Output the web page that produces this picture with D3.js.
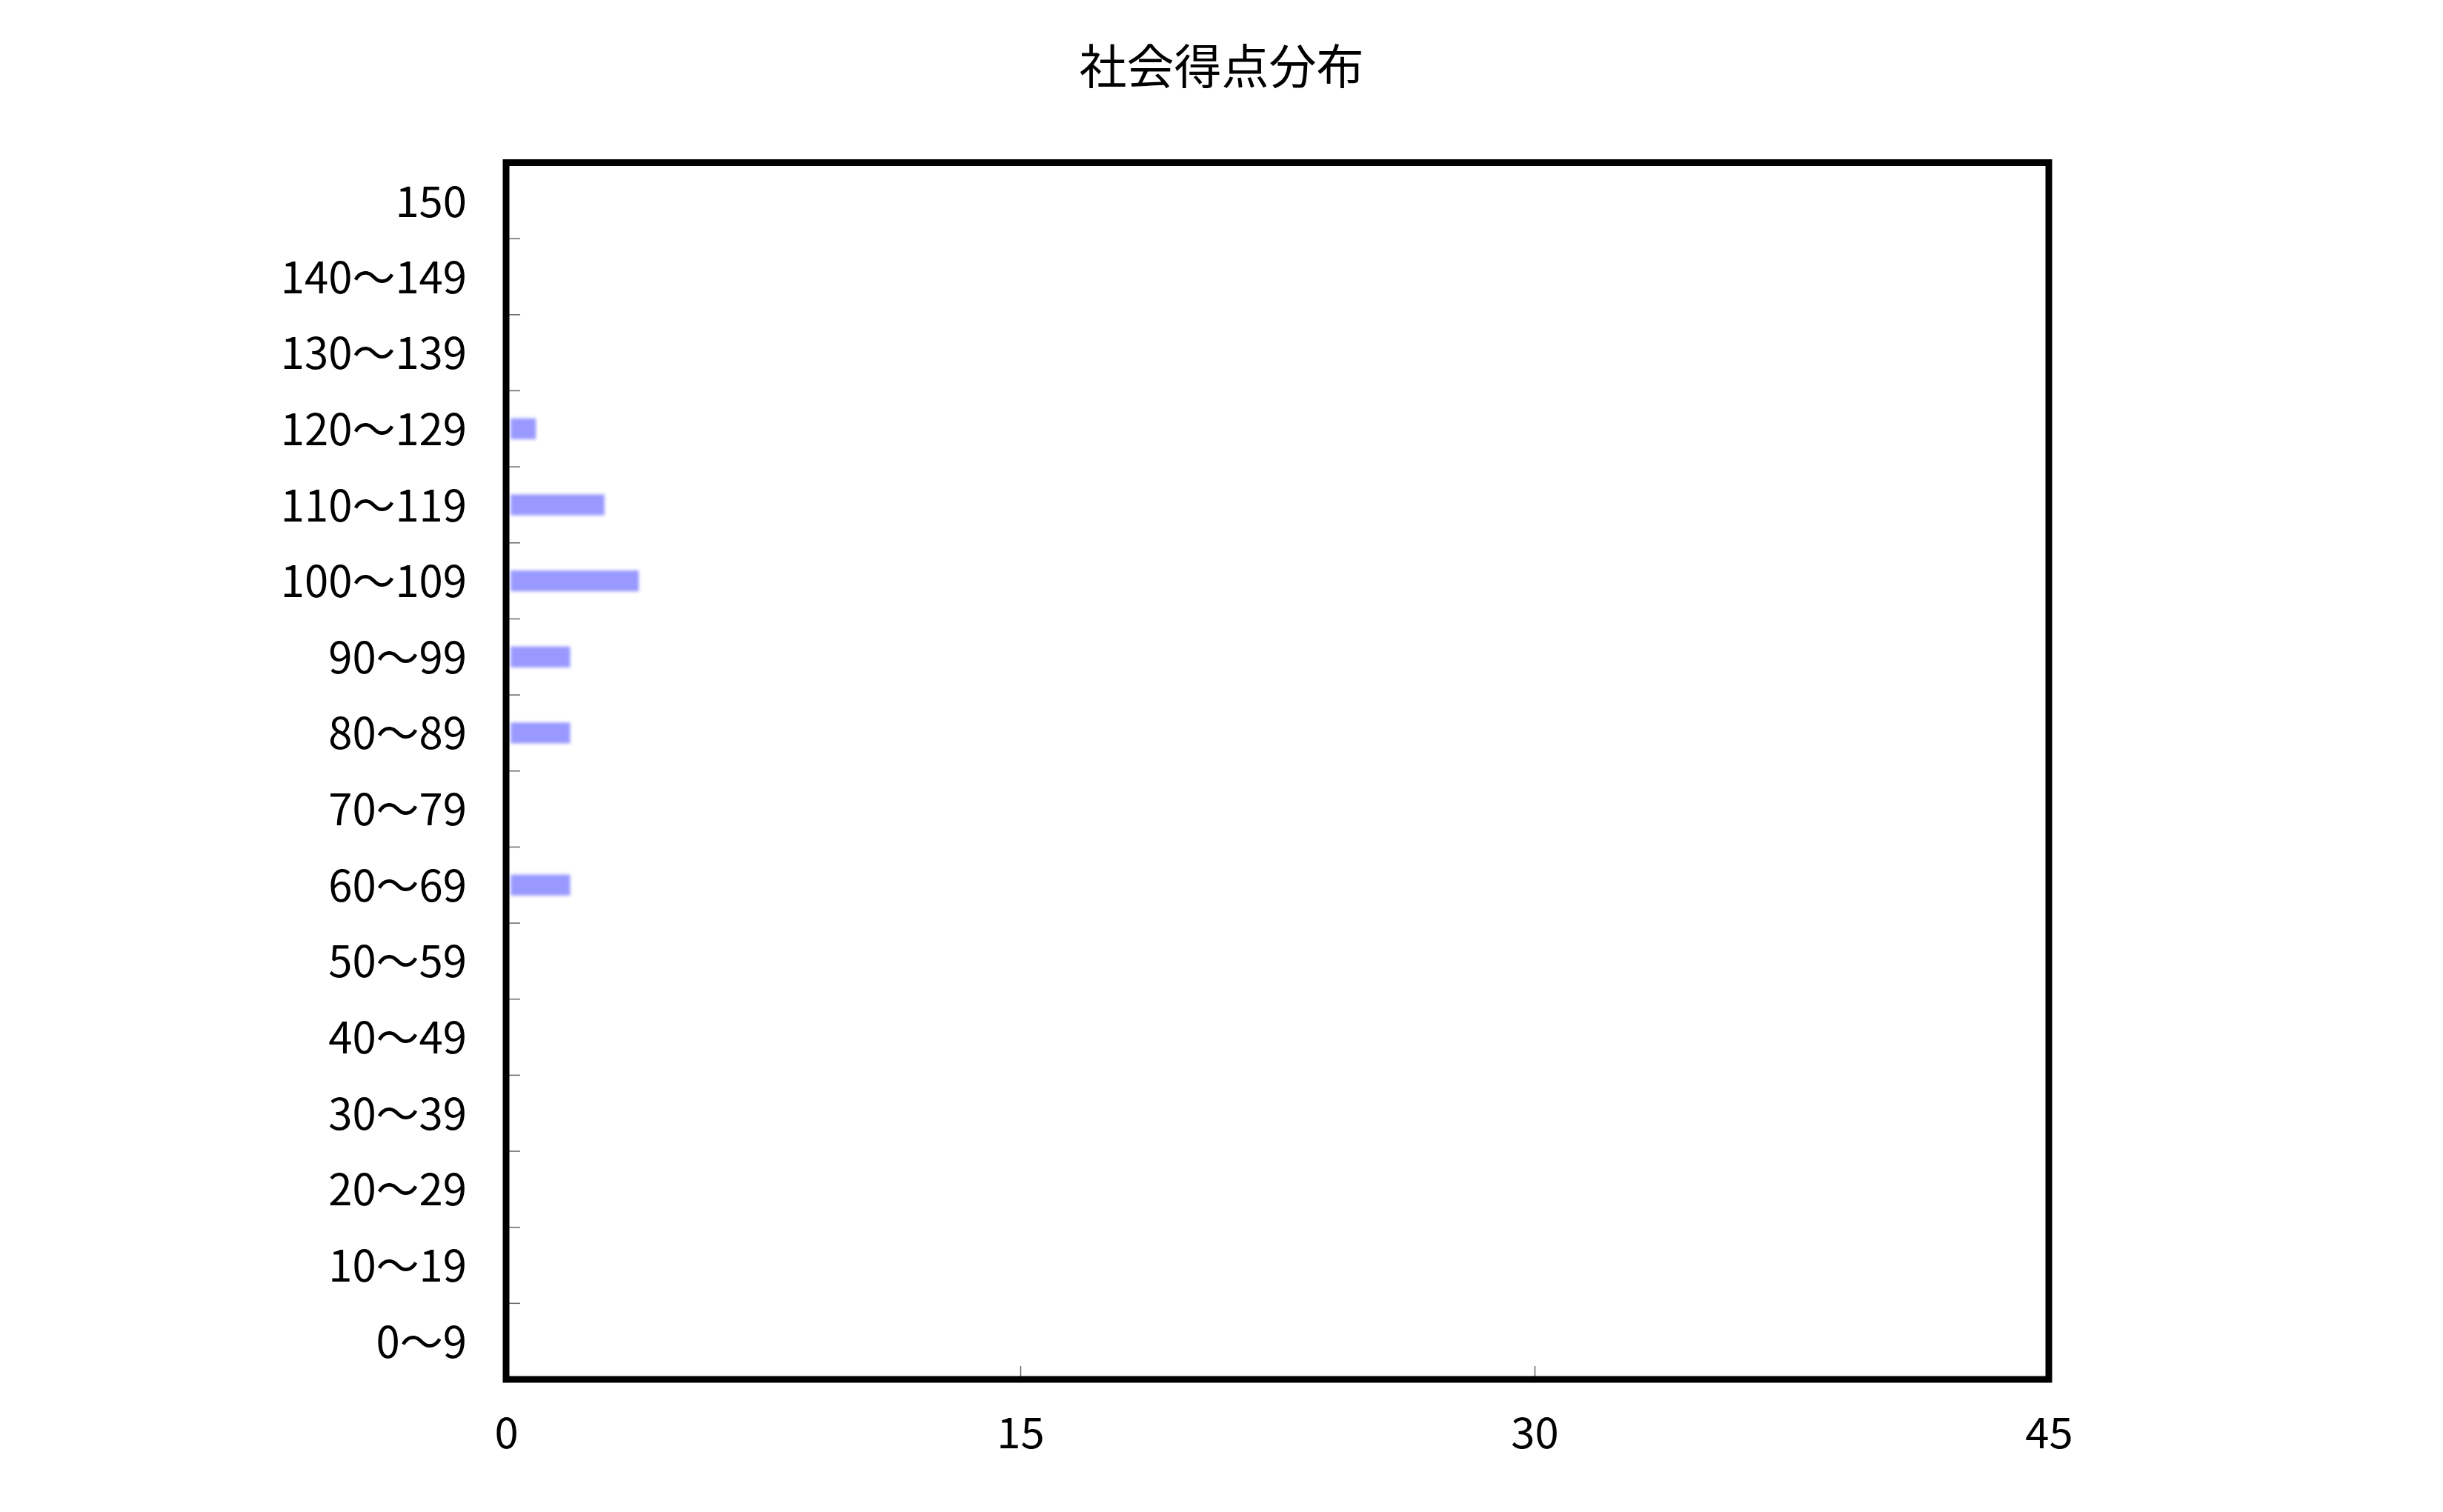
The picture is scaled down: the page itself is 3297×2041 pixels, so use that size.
<!DOCTYPE html>
<html>
<head>
<meta charset="utf-8">
<script src="https://cdn.jsdelivr.net/npm/d3@7"></script>
<style>
  body { margin: 0; background: #fff; }
  text { font-family: "Noto Sans CJK JP", "Noto Sans", sans-serif; fill: #000; }
</style>
</head>
<body>
<div id="chart"></div>
<script>
// chart data
const categories = ["0～9", "10～19", "20～29", "30～39", "40～49", "50～59", "60～69",
    "70～79", "80～89", "90～99", "100～109", "110～119", "120～129", "130～139", "140～149", "150"];
const counts = [0, 0, 0, 0, 0, 0, 2, 0, 2, 2, 4, 3, 1, 0, 0, 0];
const xTicks = [0, 15, 30, 45];
const title = "社会得点分布";

const svgWidth = 3297;
const svgHeight = 2041;

const plot = { left: 683, right: 2765, top: 219.5, bottom: 1862 };

const svg = d3.select("#chart")
    .append("svg")
    .attr("width", svgWidth)
    .attr("height", svgHeight);

// soft edge on the bars
svg.append("defs").append("filter")
    .attr("id", "soft")
    .attr("x", "-10%").attr("y", "-50%")
    .attr("width", "120%").attr("height", "200%")
    .append("feGaussianBlur")
    .attr("stdDeviation", 2);

// scales
const xScale = d3.scaleLinear()
    .domain([0, 45])
    .range([plot.left, plot.right]);

// first category at the bottom
const yScale = d3.scaleBand()
    .domain(categories)
    .range([plot.bottom, plot.top]);

const barScale = d3.scaleBand()
    .domain(categories)
    .range([plot.bottom, plot.top])
    .paddingInner(0.725)
    .paddingOuter(0.3625);

// bars (small inset at both ends, like the original)
const inset = 6;
svg.append("g")
    .selectAll("rect")
    .data(categories.map((c, i) => ({ cat: c, value: counts[i] })).filter(d => d.value > 0))
    .enter()
    .append("rect")
    .attr("x", xScale(0) + inset)
    .attr("y", d => barScale(d.cat))
    .attr("width", d => xScale(d.value) - xScale(0) - 2 * inset)
    .attr("height", barScale.bandwidth())
    .attr("fill", "#9999ff")
    .attr("filter", "url(#soft)");

// y tick marks between categories (inside the frame)
const yBounds = categories.slice(1).map(c => yScale(c) + yScale.bandwidth());
svg.append("g")
    .selectAll("line")
    .data(yBounds)
    .enter()
    .append("line")
    .attr("x1", plot.left)
    .attr("x2", plot.left + 19)
    .attr("y1", d => d)
    .attr("y2", d => d)
    .attr("stroke", "#666")
    .attr("stroke-width", 1.5);

// y labels
const leftAxis = d3.axisLeft(yScale).tickSize(0).tickPadding(53);
const yAxis = svg.append("g")
    .attr("transform", `translate(${plot.left}, 0)`)
    .call(leftAxis);
yAxis.select(".domain").remove();
yAxis.selectAll("text")
    .attr("font-size", 58)
    .attr("font-family", null)
    .attr("dy", "0.38em");

// x axis, ticks pointing up into the frame
const bottomAxis = d3.axisBottom(xScale).tickValues(xTicks).tickSize(-18);
const xAxis = svg.append("g")
    .attr("transform", `translate(0, ${plot.bottom})`)
    .call(bottomAxis);
xAxis.select(".domain").remove();
xAxis.selectAll("line")
    .attr("stroke", "#666")
    .attr("stroke-width", 1.5);
xAxis.selectAll("text")
    .attr("font-size", 58)
    .attr("font-family", null)
    .attr("y", 93)
    .attr("dy", 0);

// frame
svg.append("rect")
    .attr("x", plot.left)
    .attr("y", plot.top)
    .attr("width", plot.right - plot.left)
    .attr("height", plot.bottom - plot.top)
    .attr("fill", "none")
    .attr("stroke", "#000")
    .attr("stroke-width", 9);

// title
svg.append("text")
    .attr("x", svgWidth / 2)
    .attr("y", 113)
    .attr("text-anchor", "middle")
    .attr("font-size", 64)
    .text(title);
</script>
</body>
</html>
